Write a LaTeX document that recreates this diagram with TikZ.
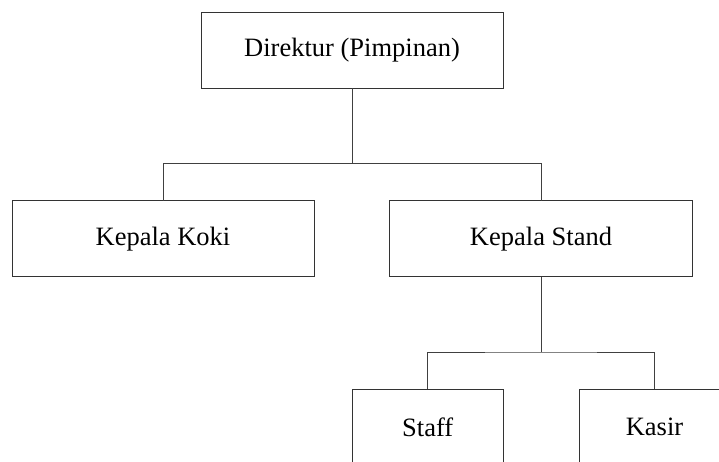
\documentclass[tikz,border=0pt]{standalone}
\usepackage{fontspec}
\setmainfont{Liberation Serif}
\begin{document}
\begin{tikzpicture}[x=1pt,y=-1pt,
  box/.style={draw=black!80,line width=0.9pt,rectangle,inner sep=0pt,outer sep=0pt,
    font=\fontsize{26.5}{32}\selectfont},
  link/.style={draw=black!75,line width=0.9pt}]
\useasboundingbox (0,0) rectangle (719,461);
\clip (0,0) rectangle (719,461);
\node[box,minimum width=302pt,minimum height=75.5pt] (dir) at (352,50.5) {Direktur (Pimpinan)};
\node[box,minimum width=302pt,minimum height=76pt] (koki) at (163,238.8) {Kepala Koki};
\node[box,minimum width=303pt,minimum height=76pt] (stand) at (541,238.8) {Kepala Stand};
\node[box,minimum width=151pt,minimum height=76pt] (staff) at (427.7,427.3) {Staff};
\node[box,minimum width=151pt,minimum height=76pt] (kasir) at (654.5,427.3) {Kasir};
\coordinate (j1) at (352,163.3);
\coordinate (j2) at (541,352);
\draw[link] (dir.south) -- (j1);
\draw[link] (koki.north) |- (j1) -| (stand.north);
\draw[link] (stand.south) -- (j2);
\draw[link] (staff.north) |- (j2) -| (kasir.north);
\end{tikzpicture}
\end{document}
